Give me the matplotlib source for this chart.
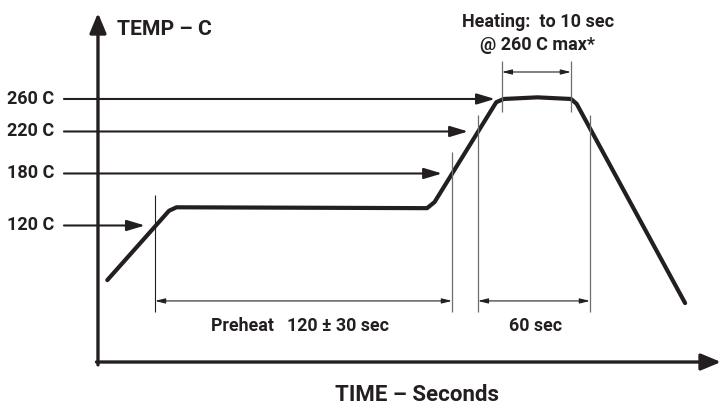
import numpy as np
import matplotlib
matplotlib.use("Agg")
import matplotlib.pyplot as plt

# ── Data (schematic reflow profile) ───────────────────────────────────────────
profile_time = [5, 38, 42, 176, 180, 213, 217, 235, 253, 256, 314]
profile_temp = [82, 137, 141, 140, 147, 256, 260, 262, 260, 254, 66]

levels       = [260, 220, 180, 120]
level_labels = ["260 C", "220 C", "180 C", "120 C"]
level_tips   = [212.3, 197.9, 184.0, 25.1]

preheat_span = [30.5, 189.3]
peak_span    = [203.2, 263.1]
heating_span = [216.0, 252.9]

# schematic (non linear) temperature axis: temp -> drawing height
temp_anchor   = [-100, 25, 120, 180, 220, 260, 500]
height_anchor = [-132.6, 47, 183.5, 235.5, 277.5, 310, 505]


def fwd(t):
    return np.interp(t, temp_anchor, height_anchor)


def inv(h):
    return np.interp(h, height_anchor, temp_anchor)


plt.rcParams["font.family"] = ["Roboto", "DejaVu Sans"]
INK = "#231f20"

fig = plt.figure(figsize=(7.21, 4.09), dpi=100)
ax = fig.add_axes([0, 0, 1, 1])
ax.set_yscale("function", functions=(fwd, inv))
ax.set_xlim(-52.4, 333.2)
ax.set_ylim(-7.7, 381.8)
ax.axis("off")

# axes arrows
ax.annotate("", xy=(0, 365.8), xytext=(0, 23),
            arrowprops=dict(arrowstyle="-|>,head_length=1.2,head_width=0.5",
                            lw=2.4, color=INK, shrinkA=0, shrinkB=0))
ax.annotate("", xy=(333.2, 25), xytext=(-0.8, 25),
            arrowprops=dict(arrowstyle="-|>,head_length=1.2,head_width=0.5",
                            lw=2.4, color=INK, shrinkA=0, shrinkB=0))
ax.text(10.2, 345, "TEMP – C", fontsize=15.2, fontweight="bold",
        ha="left", va="center", color=INK)
ax.text(170.6, 2, "TIME – Seconds", fontsize=16, fontweight="bold",
        ha="center", va="center", color=INK)

# temperature level arrows
for lev, lab, tip in zip(levels, level_labels, level_tips):
    ax.annotate("", xy=(tip, lev), xytext=(-18.2, lev),
                arrowprops=dict(arrowstyle="-|>,head_length=1.1,head_width=0.33",
                                lw=1.5, color=INK, shrinkA=0, shrinkB=0))
    ax.text(-23.5, lev, lab, fontsize=13, fontweight="bold",
            ha="right", va="center", color=INK)

# profile curve
ax.plot(profile_time, profile_temp, color=INK, lw=3.0,
        solid_joinstyle="round", solid_capstyle="round")

# extension lines
ax.vlines(preheat_span[0], 59.8, 155.2, color=INK, lw=0.8)
ax.vlines(preheat_span[1], 59.8, 200.5, color="#6d6e71", lw=0.9)
ax.vlines(peak_span, 59.8, 240.5, color="#6d6e71", lw=0.9)
ax.vlines(heating_span, 244, 306.8, color="#6d6e71", lw=0.9)

# dimension arrows
dim_style = dict(arrowstyle="<|-|>,head_length=0.6,head_width=0.15",
                 lw=0.8, color=INK, shrinkA=0, shrinkB=0)
ax.annotate("", xy=(preheat_span[1], 67.5), xytext=(preheat_span[0], 67.5),
            arrowprops=dim_style)
ax.annotate("", xy=(peak_span[1], 67.5), xytext=(peak_span[0], 67.5),
            arrowprops=dim_style)
ax.annotate("", xy=(heating_span[1], 293.2), xytext=(heating_span[0], 293.2),
            arrowprops=dim_style)

ax.text(108, 50, "Preheat   120 ± 30 sec", fontsize=12.8, fontweight="bold",
        ha="center", va="center", color=INK)
ax.text(234.2, 50, "60 sec", fontsize=12.8, fontweight="bold",
        ha="center", va="center", color=INK)
ax.text(235.3, 355, "Heating:  to 10 sec", fontsize=13, fontweight="bold",
        ha="center", va="center", color=INK)
ax.text(235.3, 326.5, "@ 260 C max*", fontsize=13, fontweight="bold",
        ha="center", va="center", color=INK)

fig.savefig("out.png", dpi=100)
plt.close(fig)
